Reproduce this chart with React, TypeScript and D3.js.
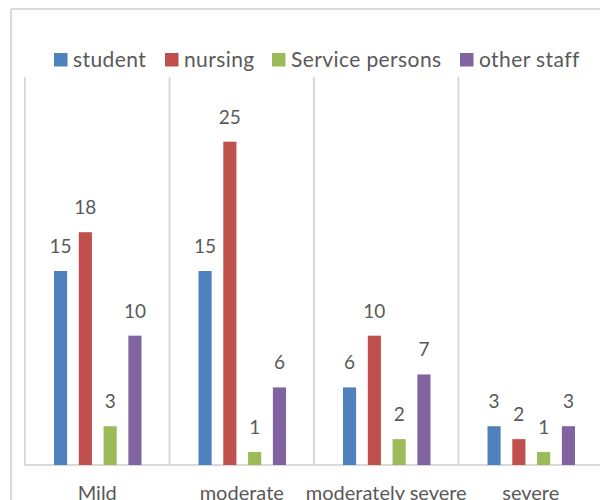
import React from "react";
import * as d3 from "d3";

const categories = ["Mild", "moderate", "moderately severe", "severe"];
const seriesNames = ["student", "nursing", "Service persons", "other staff"];
const student = [15, 15, 6, 3];
const nursing = [18, 25, 10, 2];
const servicePersons = [3, 1, 2, 1];
const otherStaff = [10, 6, 7, 3];
const seriesValues = [student, nursing, servicePersons, otherStaff];
const colors = ["#4F81BD", "#C0504D", "#9BBB59", "#8064A2"];
const legendX = [54, 165, 272, 460];

const W = 600;
const H = 500;
const FONT = "Lato, 'Open Sans', sans-serif";

export default function App() {
  const x0 = d3.scaleBand<string>().domain(categories).range([25, 603]).padding(0);
  const x1 = d3
    .scaleBand<string>()
    .domain(seriesNames)
    .range([29, 116.5])
    .paddingInner(0.47)
    .paddingOuter(0);
  const y = d3.scaleLinear().domain([0, 30]).range([465, 77]);

  return (
    <svg
      width={W}
      height={H}
      style={{ position: "absolute", left: 0, top: 0, background: "#fff" }}
      fontFamily={FONT}
    >
      <rect x={0} y={0} width={W} height={H} fill="#fff" />
      {/* outer chart border */}
      <line x1={11} x2={W + 10} y1={9} y2={9} stroke="#D9D9D9" strokeWidth={2} />
      <line x1={11} x2={11} y1={9} y2={H + 10} stroke="#D9D9D9" strokeWidth={2} />
      {/* vertical category gridlines */}
      {categories.map((c) => (
        <line
          key={"g" + c}
          x1={x0(c)!}
          x2={x0(c)!}
          y1={y(30)}
          y2={y(0)}
          stroke="#D9D9D9"
          strokeWidth={2}
        />
      ))}
      {/* axis */}
      <line x1={x0.range()[0] - 1} x2={W + 10} y1={y(0)} y2={y(0)} stroke="#D9D9D9" strokeWidth={2} />
      {/* bars */}
      {seriesNames.map((s, si) =>
        categories.map((c, ci) => {
          const v = seriesValues[si][ci];
          const bx = x0(c)! + x1(s)!;
          return (
            <g key={s + c}>
              <rect
                x={bx}
                y={y(v)}
                width={x1.bandwidth()}
                height={y(0) - y(v)}
                fill={colors[si]}
              />
              <text
                x={bx + x1.bandwidth() / 2}
                y={y(v) - 18}
                textAnchor="middle"
                fontSize={19}
                fill="#595959"
              >
                {v}
              </text>
            </g>
          );
        })
      )}
      {/* category labels */}
      {categories.map((c) => (
        <text
          key={"l" + c}
          x={x0(c)! + x0.bandwidth() / 2}
          y={500}
          textAnchor="middle"
          fontSize={20}
          fill="#595959"
        >
          {c}
        </text>
      ))}
      {/* legend */}
      {seriesNames.map((s, i) => (
        <g key={"lg" + s}>
          <rect x={legendX[i]} y={53} width={13.5} height={13.5} fill={colors[i]} />
          <text
            x={legendX[i] + 19}
            y={66.5}
            fontSize={21}
            letterSpacing={0.4}
            fill="#595959"
          >
            {s}
          </text>
        </g>
      ))}
    </svg>
  );
}
